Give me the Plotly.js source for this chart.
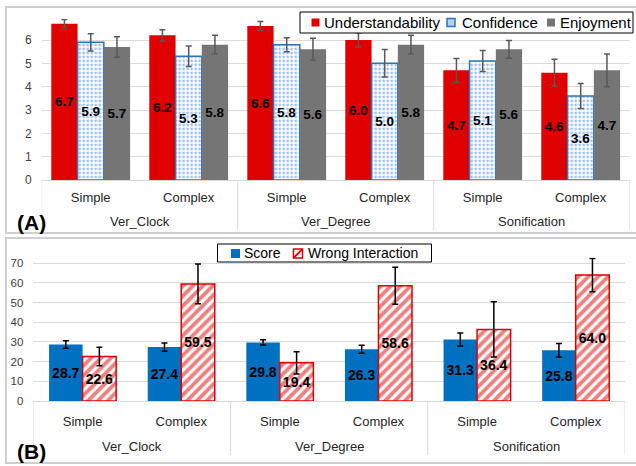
<!DOCTYPE html>
<html>
<head>
<meta charset="utf-8">
<script src="https://cdn.plot.ly/plotly-3.0.1.min.js"></script>
<style>html,body{margin:0;padding:0;background:#fff;}#chart{width:636px;height:466px;}</style>
</head>
<body>
<div id="chart"></div>
<script>
// ---- data ----
const groups = ['Ver_Clock','Ver_Clock','Ver_Degree','Ver_Degree','Sonification','Sonification'];
const levels = ['Simple','Complex','Simple','Complex','Simple','Complex'];

const understandability = [6.7, 6.2, 6.6, 6.0, 4.7, 4.6];
const understandabilityErr = [0.18, 0.24, 0.19, 0.30, 0.51, 0.57];
const confidence = [5.9, 5.3, 5.8, 5.0, 5.1, 3.6];
const confidenceErr = [0.37, 0.44, 0.30, 0.59, 0.45, 0.54];
const enjoyment = [5.7, 5.8, 5.6, 5.8, 5.6, 4.7];
const enjoymentErr = [0.44, 0.40, 0.47, 0.40, 0.38, 0.70];

const score = [28.7, 27.4, 29.8, 26.3, 31.3, 25.8];
const scoreErr = [1.9, 2.1, 1.3, 2.0, 3.3, 3.4];
const wrongInteraction = [22.6, 59.5, 19.4, 58.6, 36.4, 64.0];
const wrongInteractionErr = [4.7, 10.1, 5.7, 9.4, 14.0, 8.5];

// ---- style / helpers ----
const FONT = 'Liberation Sans, Arial, sans-serif';
const W = 636, H = 466;
const px = v => v / W, py = v => (H - v) / H;
const cats = groups.map((g, i) => g + '|' + levels[i]);
const fmt = a => a.map(v => v.toFixed(1));

const C_RED = '#e00000', C_BLUE_LINE = '#2e75b6', C_BLUE_DOT = '#4a8ad0',
      C_GREY = '#757575', C_SCORE = '#0070c0';

function bar(name, y, err, opts) {
  const base = {
    type: 'bar', name: name, x: cats, y: y,
    text: fmt(y), textposition: 'inside', insidetextanchor: 'middle',
    constraintext: 'none', textangle: 0,
    textfont: {family: FONT, size: 13.5, color: '#000', weight: 'bold'},
    hoverinfo: 'skip', showlegend: false
  };
  const t = Object.assign(base, opts);
  t.error_y = Object.assign({type: 'data', array: err, visible: true}, opts.error_y);
  return t;
}

const errA = {color: '#595959', thickness: 1.5, width: 3};
const errB = {color: '#000000', thickness: 1.5, width: 3};
const wA = 0.268, wB = 0.34;
const patDots = {shape: '.', fgcolor: C_BLUE_DOT, bgcolor: '#ffffff', size: 4, solidity: 0.4, fillmode: 'overlay'};
const patHatch = {shape: '/', fgcolor: C_RED, bgcolor: '#ffffff', size: 7, solidity: 0.55, fillmode: 'overlay'};

const traces = [
  bar('Understandability', understandability, understandabilityErr, {
    xaxis: 'x', yaxis: 'y', width: wA, offset: -1.5 * wA,
    marker: {color: C_RED, line: {width: 0}}, error_y: errA}),
  bar('Confidence', confidence, confidenceErr, {
    xaxis: 'x', yaxis: 'y', width: wA, offset: -0.5 * wA,
    marker: {color: '#ffffff', line: {color: C_BLUE_LINE, width: 1.5}, pattern: patDots},
    error_y: errA}),
  bar('Enjoyment', enjoyment, enjoymentErr, {
    xaxis: 'x', yaxis: 'y', width: wA, offset: 0.5 * wA,
    marker: {color: C_GREY, line: {width: 0}}, error_y: errA}),
  bar('Score', score, scoreErr, {
    xaxis: 'x2', yaxis: 'y2', width: wB, offset: -wB,
    textfont: {family: FONT, size: 14, color: '#000', weight: 'bold'},
    marker: {color: C_SCORE, line: {width: 0}}, error_y: errB}),
  bar('Wrong Interaction', wrongInteraction, wrongInteractionErr, {
    xaxis: 'x2', yaxis: 'y2', width: wB, offset: 0,
    textfont: {family: FONT, size: 14, color: '#000', weight: 'bold'},
    marker: {color: '#ffffff', line: {color: C_RED, width: 1.5}, pattern: patHatch},
    error_y: errB})
];

// ---- axes ----
function xAxis(domain, anchor, standoff) {
  return {
    type: 'category', categoryorder: 'array', categoryarray: cats,
    tickmode: 'array', tickvals: cats, ticktext: levels,
    domain: domain, anchor: anchor, range: [-0.5, cats.length - 0.5],
    showgrid: false, zeroline: false, showline: true, linecolor: '#d9d9d9', linewidth: 1,
    ticks: '', ticklabelstandoff: standoff,
    tickfont: {family: FONT, size: 13, color: '#262626'}
  };
}
function yAxis(domain, anchor, range, dtick, fs) {
  return {
    domain: domain, anchor: anchor, range: range, dtick: dtick,
    showgrid: true, gridcolor: '#dcdcdc', gridwidth: 1, zeroline: false, showline: false,
    ticks: '', ticklabelstandoff: 9,
    tickfont: {family: FONT, size: fs, color: '#404040'}
  };
}

// ---- group labels + dividers (derived from groups array) ----
const shapes = [], annotations = [];
function groupDecor(xref, yTop, yBottom, yLabel) {
  let start = 0;
  for (let i = 1; i <= groups.length; i++) {
    if (i === groups.length || groups[i] !== groups[start]) {
      annotations.push({text: groups[start], xref: xref, yref: 'paper', x: (start + i - 1) / 2,
        y: py(yLabel), xanchor: 'center', yanchor: 'middle', showarrow: false,
        font: {family: FONT, size: 13, color: '#262626'}});
      start = i;
    }
  }
  const bounds = [-0.5];
  for (let i = 1; i < groups.length; i++) if (groups[i] !== groups[i - 1]) bounds.push(i - 0.5);
  bounds.push(groups.length - 0.5);
  bounds.forEach(b => shapes.push({type: 'line', xref: xref, yref: 'paper', x0: b, x1: b,
    y0: py(yTop), y1: py(yBottom), line: {color: '#d9d9d9', width: 1}}));
}
groupDecor('x', 180, 230, 221);
groupDecor('x2', 401, 455, 446.5);

// ---- panel frames ----
shapes.push({type: 'rect', xref: 'paper', yref: 'paper', x0: px(6), x1: 1.05, y0: py(233), y1: py(7),
  line: {color: '#cfcfcf', width: 2}, layer: 'below'});
shapes.push({type: 'rect', xref: 'paper', yref: 'paper', x0: px(6), x1: 1.05, y0: py(463), y1: py(238),
  line: {color: '#cfcfcf', width: 2}, layer: 'below'});

// ---- custom legends ----
function legendBox(x0, y0, x1, y1) {
  shapes.push({type: 'rect', xref: 'paper', yref: 'paper', x0: px(x0), x1: px(x1), y0: py(y1), y1: py(y0),
    fillcolor: '#ffffff', line: {color: '#000', width: 1}});
}
function legendItem(kind, sx, sy, s, label, tx, ty, fs) {
  const sq = {type: 'rect', xref: 'paper', yref: 'paper', x0: px(sx), x1: px(sx + s), y0: py(sy + s), y1: py(sy)};
  if (kind === 'solidRed') shapes.push(Object.assign(sq, {fillcolor: C_RED, line: {width: 0}}));
  if (kind === 'solidGrey') shapes.push(Object.assign(sq, {fillcolor: C_GREY, line: {width: 0}}));
  if (kind === 'solidBlue') shapes.push(Object.assign(sq, {fillcolor: C_SCORE, line: {width: 0}}));
  if (kind === 'dots') shapes.push(Object.assign(sq, {fillcolor: '#b4d0ee', line: {color: C_BLUE_LINE, width: 1.5}}));
  if (kind === 'hatch') {
    shapes.push(Object.assign(sq, {fillcolor: '#ffffff', line: {color: C_RED, width: 1.5}}));
    [[0, 0.55], [0.45, 1]].forEach(([a, b]) => shapes.push({type: 'line', xref: 'paper', yref: 'paper',
      x0: px(sx + a * s), x1: px(sx + b * s), y0: py(sy + (1 - a) * s), y1: py(sy + (1 - b) * s),
      line: {color: C_RED, width: 1.5}}));
    shapes.push({type: 'line', xref: 'paper', yref: 'paper', x0: px(sx), x1: px(sx + s),
      y0: py(sy + s), y1: py(sy), line: {color: C_RED, width: 1.5}});
  }
  annotations.push({text: label, xref: 'paper', yref: 'paper', x: px(tx), y: py(ty), xanchor: 'left',
    yanchor: 'middle', showarrow: false, font: {family: FONT, size: fs, color: '#000'}});
}
legendBox(300, 12, 633, 33);
legendItem('solidRed', 311.5, 18.5, 8, traces[0].name, 322, 22.5, 15);
legendItem('dots', 447, 18.5, 8, traces[1].name, 459.5, 22.5, 15);
legendItem('solidGrey', 547, 18.5, 8, traces[2].name, 558, 22.5, 15);
legendBox(217.5, 244, 431.5, 262);
legendItem('solidBlue', 231, 249, 9, traces[3].name, 242, 253, 14);
legendItem('hatch', 293.5, 249, 9, traces[4].name, 305.5, 253, 14);

// ---- panel tags ----
annotations.push({text: '(A)', xref: 'paper', yref: 'paper', x: px(31), y: py(222.5), xanchor: 'center', yanchor: 'middle',
  showarrow: false, font: {family: FONT, size: 21, color: '#000', weight: 'bold'}});
annotations.push({text: '(B)', xref: 'paper', yref: 'paper', x: px(31), y: py(451.5), xanchor: 'center', yanchor: 'middle',
  showarrow: false, font: {family: FONT, size: 21, color: '#000', weight: 'bold'}});

const layout = {
  width: W, height: H,
  margin: {l: 0, r: 0, t: 0, b: 0},
  paper_bgcolor: '#ffffff', plot_bgcolor: 'rgba(0,0,0,0)',
  barmode: 'overlay', showlegend: false,
  font: {family: FONT, color: '#262626'},
  xaxis: xAxis([px(41.7), px(629.7)], 'y', 5),
  yaxis: yAxis([py(180), py(19)], 'x', [0, 6.9], 1, 12),
  xaxis2: xAxis([px(33.3), px(625)], 'y2', 8),
  yaxis2: yAxis([py(401), py(257.4)], 'x2', [0, 73], 10, 11.5),
  shapes: shapes,
  annotations: annotations
};

Plotly.newPlot('chart', traces, layout, {staticPlot: true, displayModeBar: false});
</script>
</body>
</html>
